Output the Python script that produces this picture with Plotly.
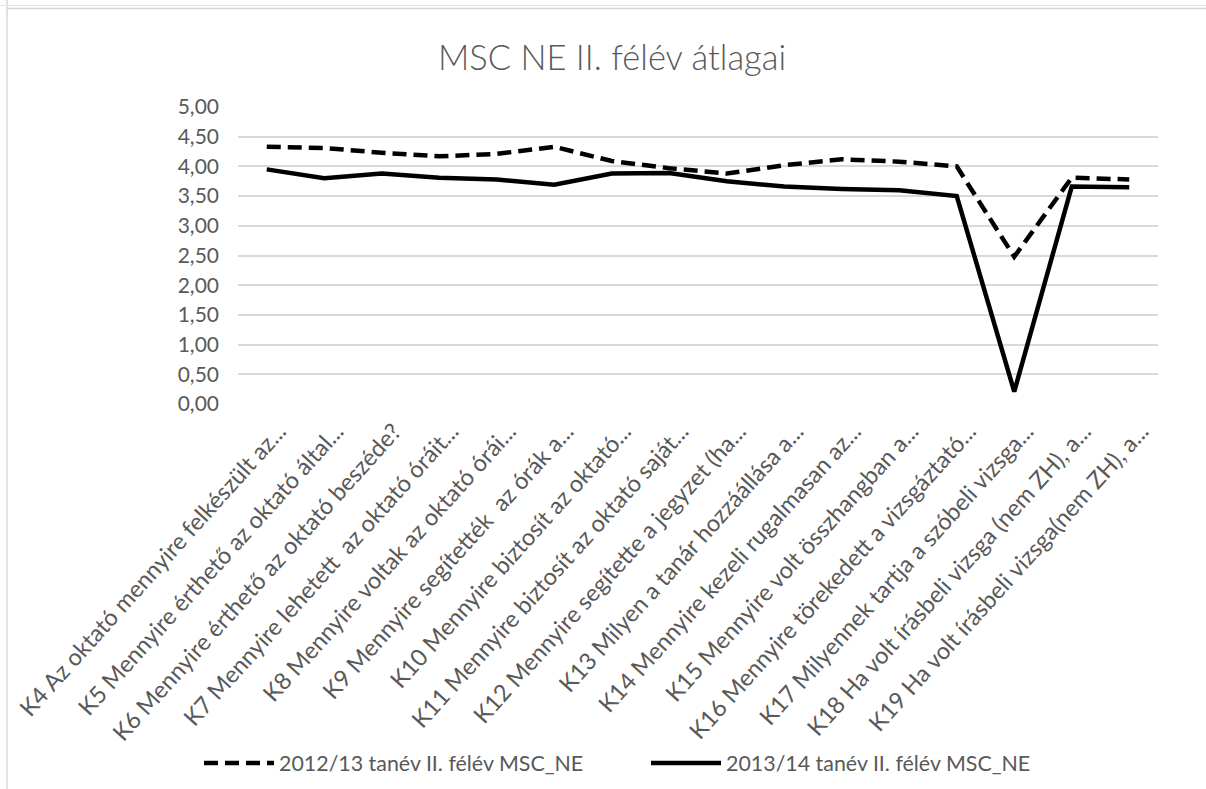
import plotly.graph_objects as go

categories = [
    "K4 Az oktató mennyire felkészült az...",
    "K5 Mennyire érthető az oktató által...",
    "K6 Mennyire érthető az oktató beszéde?",
    "K7 Mennyire lehetett  az oktató óráit...",
    "K8 Mennyire voltak az oktató órái...",
    "K9 Mennyire segítették  az órák a...",
    "K10 Mennyire biztosít az oktató...",
    "K11 Mennyire biztosít az oktató saját...",
    "K12 Mennyire segítette a jegyzet (ha...",
    "K13 Milyen a tanár hozzáállása a...",
    "K14 Mennyire kezeli rugalmasan az...",
    "K15 Mennyire volt összhangban a...",
    "K16 Mennyire törekedett a vizsgáztató...",
    "K17 Milyennek tartja a szóbeli vizsga...",
    "K18 Ha volt írásbeli vizsga (nem ZH), a...",
    "K19 Ha volt írásbeli vizsga(nem ZH), a...",
]
avg_2012_13 = [4.33, 4.31, 4.23, 4.17, 4.21, 4.33, 4.09, 3.97,
               3.88, 4.02, 4.12, 4.08, 4.00, 2.48, 3.81, 3.78]
avg_2013_14 = [3.95, 3.80, 3.88, 3.81, 3.78, 3.69, 3.88, 3.89,
               3.75, 3.66, 3.62, 3.60, 3.50, 0.21, 3.66, 3.65]
series_names = ["2012/13 tanév II. félév MSC_NE", "2013/14 tanév II. félév MSC_NE"]
y_ticks = [0, 0.5, 1, 1.5, 2, 2.5, 3, 3.5, 4, 4.5, 5]

FONT = "Lato, Carlito, Calibri, sans-serif"
GREY = "#595959"

fig = go.Figure()
fig.add_trace(go.Scatter(
    x=categories, y=avg_2012_13, name=series_names[0], mode="lines",
    line=dict(color="black", width=4.5, dash="14px,7px"),
))
fig.add_trace(go.Scatter(
    x=categories, y=avg_2013_14, name=series_names[1], mode="lines",
    line=dict(color="black", width=4.5),
))

# plot area: x 238..1158, y 107..404 (pixels)
L, R, T, B = 238, 1158, 107, 404
W, H = R - L, B - T


def px_x(p):
    return (p - L) / W


def px_y(p):
    return (B - p) / H


border = dict(color="#d9d9d9", width=1.5)
fig.update_layout(
    width=1206, height=789,
    separators=", ",
    title=dict(text="MSC NE II. félév átlagai", x=612 / 1206, xref="container",
               y=1 - 58 / 789, yanchor="middle", xanchor="center",
               font=dict(family=FONT, size=34.5, color=GREY, weight=300)),
    plot_bgcolor="white",
    paper_bgcolor="white",
    font=dict(family=FONT, size=20, color=GREY),
    margin=dict(l=L, r=1206 - R, t=T, b=789 - B, autoexpand=False),
    xaxis=dict(showgrid=False, showline=False, ticks="", tickangle=-48,
               range=[-0.5, len(categories) - 0.5],
               tickfont=dict(size=23.5, color=GREY), ticklabelstandoff=8,
               ticklabelshift=12),
    yaxis=dict(range=[0, 5], tickvals=y_ticks, tickformat=".2f", showgrid=True,
               gridcolor="#d9d9d9", gridwidth=1.5, zeroline=False, ticks="",
               tickfont=dict(size=21, color=GREY), ticklabelstandoff=18),
    showlegend=True,
    legend=dict(orientation="h", xref="paper", x=px_x(199), xanchor="left",
                yref="paper", y=px_y(763), yanchor="middle",
                itemwidth=70, entrywidth=362,
                font=dict(family=FONT, size=21.4, color=GREY)),
    shapes=[
        dict(type="line", xref="paper", yref="paper", x0=px_x(7), x1=px_x(7),
             y0=px_y(0), y1=px_y(789), line=border),
        dict(type="line", xref="paper", yref="paper", x0=px_x(7), x1=px_x(1206),
             y0=px_y(8.5), y1=px_y(8.5), line=border),
        dict(type="line", xref="paper", yref="paper", x0=px_x(0), x1=px_x(1206),
             y0=px_y(5.5), y1=px_y(5.5), line=dict(color="#e6e6e6", width=1)),
    ],
)

fig.write_html("out.html", config={"displayModeBar": False},
               post_script="document.body.style.margin='0';")
